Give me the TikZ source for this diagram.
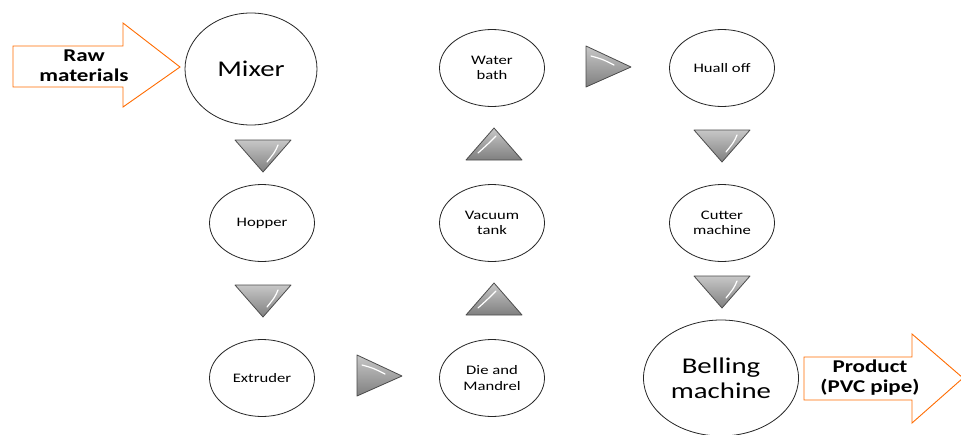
\documentclass[tikz,border=0pt]{standalone}
\usepackage{fontspec}
\setmainfont{Carlito}[FakeStretch=1.28]
\usetikzlibrary{shapes.geometric}
\begin{document}
\begin{tikzpicture}[x=1pt,y=-1pt,
  stage/.style={draw=black!85,line width=0.8pt,ellipse,minimum width=105pt,minimum height=77pt,inner sep=0pt,align=center,font=\fontsize{13}{15.5}\selectfont},
  bigstage/.style={stage,font=\fontsize{22.5}{25}\selectfont},
  tri/.style={draw=black!70,line width=0.8pt,top color=black!22,bottom color=black!50,line join=round},
  shine/.style={draw=white,line width=1.2pt,line cap=round},
  bigarrow/.style={draw=orange!85!red,line width=0.9pt,fill=white,line join=miter},
  alabel/.style={align=center,font=\fontsize{18}{20}\bfseries\selectfont}]
\useasboundingbox (0,0) rectangle (961,434);
\fill[white] (0,0) rectangle (961,434);
% stages
\node[bigstage,minimum width=132pt,minimum height=112pt] (mixer) at (251,69) {Mixer};
\node[stage] (hopper) at (262,223) {Hopper};
\node[stage] (extruder) at (262,378) {Extruder};
\node[stage] (water) at (492,68) {Water\\bath};
\node[stage] (vacuum) at (492,223) {Vacuum\\tank};
\node[stage] (die) at (492,378) {Die and\\Mandrel};
\node[stage] (huall) at (722,68) {Huall off};
\node[stage] (cutter) at (722,223) {Cutter\\machine};
\node[bigstage,minimum width=155pt,minimum height=116pt] (belling) at (721,378) {Belling\\machine};
% input arrow
\draw[bigarrow] (13,46) -- (123,46) -- (123,23) -- (180,67) -- (123,107) -- (123,87) -- (13,87) -- cycle;
\node[alabel] (raw) at (84,66) {Raw\\materials};
% output arrow
\draw[bigarrow] (804,357) -- (912,357) -- (912,334) -- (963,378) -- (912,423) -- (912,400) -- (804,400) -- cycle;
\node[alabel] (prod) at (870,378) {Product\\(PVC pipe)};
% down triangles
\foreach \cx/\ty in {263/140, 263/285, 722/130, 722/276}{
  \draw[tri] (\cx-28,\ty) -- (\cx+28,\ty) -- (\cx,\ty+32) -- cycle;
  \draw[shine] (\cx+15,\ty+5) .. controls (\cx+12,\ty+12) .. (\cx+4,\ty+22);
}
% up triangles
\foreach \cx/\ty in {494/128, 494/283}{
  \draw[tri] (\cx-28,\ty+32) -- (\cx+28,\ty+32) -- (\cx,\ty) -- cycle;
  \draw[shine] (\cx-16,\ty+25) .. controls (\cx-6,\ty+16) .. (\cx+2,\ty+8);
}
% right triangles
\foreach \lx/\cy in {357/376, 586/67}{
  \draw[tri] (\lx,\cy-21) -- (\lx,\cy+20) -- (\lx+45,\cy) -- cycle;
  \draw[shine] (\lx+5,\cy-11) .. controls (\lx+16,\cy-8) .. (\lx+28,\cy-2);
}
\end{tikzpicture}
\end{document}
